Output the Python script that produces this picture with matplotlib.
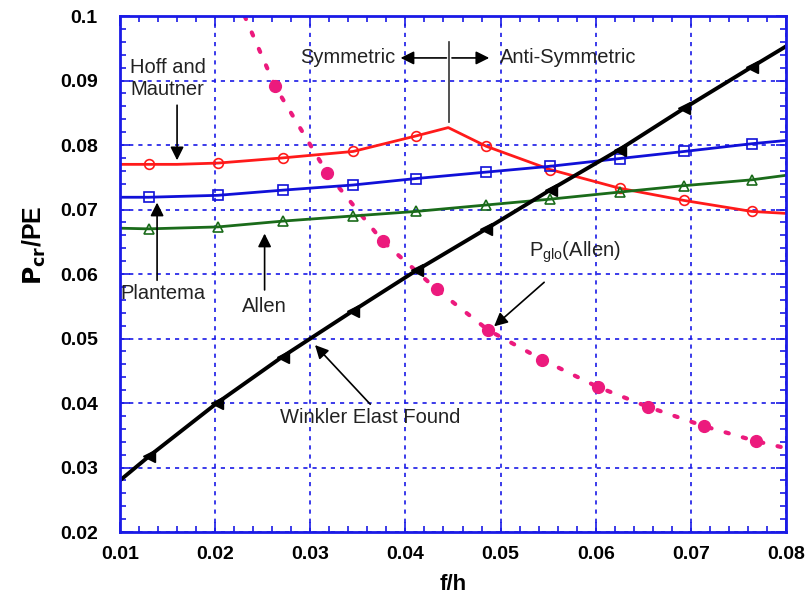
import numpy as np
import matplotlib
matplotlib.use('Agg')
import matplotlib.pyplot as plt
from matplotlib.ticker import MultipleLocator

plt.rcParams['font.family'] = ['Liberation Sans', 'DejaVu Sans']

# Hoff and Mautner (red, circles)
hoff_x = [0.010, 0.0130, 0.016, 0.0203, 0.0271, 0.0345, 0.0411, 0.0445, 0.0485, 0.0552, 0.0625, 0.0693, 0.0764, 0.080]
hoff_y = [0.0770, 0.0770, 0.0770, 0.0772, 0.0780, 0.0790, 0.0814, 0.0827, 0.0798, 0.0762, 0.0733, 0.0714, 0.0697, 0.0694]
hoff_mk = [1, 3, 4, 5, 6, 8, 9, 10, 11, 12]

# Plantema (blue, squares)
plan_x = [0.010, 0.0130, 0.0203, 0.0271, 0.0345, 0.0411, 0.0485, 0.0552, 0.0625, 0.0693, 0.0764, 0.080]
plan_y = [0.0719, 0.0719, 0.0722, 0.0730, 0.0738, 0.0748, 0.0758, 0.0767, 0.0779, 0.0790, 0.0802, 0.0807]

# Allen (green, triangles)
allen_x = [0.010, 0.0130, 0.0203, 0.0271, 0.0345, 0.0411, 0.0485, 0.0552, 0.0625, 0.0693, 0.0764, 0.080]
allen_y = [0.0671, 0.0670, 0.0673, 0.0682, 0.0690, 0.0697, 0.0707, 0.0716, 0.0727, 0.0737, 0.0746, 0.0753]

# Winkler elastic foundation (black)
wink_x = [0.010, 0.0131, 0.0202, 0.0271, 0.0345, 0.0412, 0.0485, 0.0553, 0.0625, 0.0693, 0.0764, 0.080]
wink_y = [0.0280, 0.0318, 0.0400, 0.0472, 0.0543, 0.0606, 0.0670, 0.0731, 0.0793, 0.0857, 0.0921, 0.0953]

# P_glo (Allen) (pink dotted)
pglo_x = [0.0231, 0.0263, 0.0318, 0.0376, 0.0433, 0.0487, 0.0544, 0.0602, 0.0655, 0.0714, 0.0768, 0.080]
pglo_y = [0.1000, 0.0891, 0.0756, 0.0651, 0.0576, 0.0513, 0.0467, 0.0425, 0.0394, 0.0364, 0.0341, 0.0330]

blue = '#1a1ae6'

fig = plt.figure(figsize=(8.09, 6.04), dpi=100)
ax = fig.add_axes([0.1483, 0.1192, 0.8233, 0.8543])

ax.plot(pglo_x, pglo_y, color='#ec1a7d', lw=3, linestyle=(0, (0.8, 3.5)), dash_capstyle='round')
ax.plot(pglo_x[1:-1], pglo_y[1:-1], 'o', color='#ec1a7d', ms=8.5, ls='none')

ax.plot(hoff_x, hoff_y, color='#ff1a1a', lw=2, marker='o', ms=7, mfc='none', mew=1.2,
        markevery=hoff_mk)
ax.plot(plan_x, plan_y, color='#1010d8', lw=2, marker='s', ms=7, mfc='none', mew=1.2,
        markevery=list(range(1, 11)))
ax.plot(allen_x, allen_y, color='#1a6b1a', lw=2, marker='^', ms=7, mfc='none', mew=1.2,
        markevery=list(range(1, 11)))
ax.plot(wink_x, wink_y, color='black', lw=2.8, marker='<', ms=8,
        markevery=list(range(1, 11)))

ax.set_xlim(0.01, 0.08)
ax.set_ylim(0.02, 0.1)
ax.xaxis.set_minor_locator(MultipleLocator(0.002))
ax.yaxis.set_minor_locator(MultipleLocator(0.002))
ax.set_xticks(np.arange(0.01, 0.0801, 0.01))
ax.set_xticklabels(['0.01', '0.02', '0.03', '0.04', '0.05', '0.06', '0.07', '0.08'])
ax.set_yticks(np.arange(0.02, 0.1001, 0.01))
ax.set_yticklabels(['0.02', '0.03', '0.04', '0.05', '0.06', '0.07', '0.08', '0.09', '0.1'])

ax.grid(True, which='major', color=blue, linestyle=(0, (2.5, 3)), lw=1.2)
ax.tick_params(which='both', direction='in', top=True, right=True, color=blue)
ax.tick_params(which='major', length=7, width=1.2, labelsize=14)
ax.tick_params(which='minor', length=4, width=1.2)
ax.tick_params(axis='x', which='major', pad=10)
ax.tick_params(axis='y', which='major', pad=16)
for lab in ax.get_xticklabels() + ax.get_yticklabels():
    lab.set_fontweight('bold')
for sp in ax.spines.values():
    sp.set_color(blue)
    sp.set_linewidth(2)

ax.set_xlabel('f/h', fontsize=16, fontweight='bold', labelpad=8)
ax.set_ylabel(r'$\mathbf{P_{cr}}$/PE', fontsize=18, fontweight='bold')
ax.yaxis.set_label_coords(-0.108, 0.556)

txt = dict(fontsize=14.5, color='#222222')
arr = dict(arrowstyle='-|>', color='black', lw=1.2, mutation_scale=20)

ax.text(0.0111, 0.0903, 'Hoff and\nMautner', va='center', ha='left', linespacing=1.25, **txt)
ax.annotate('', xy=(0.0160, 0.0772), xytext=(0.0160, 0.0866), arrowprops=arr)

ax.text(0.0100, 0.0570, 'Plantema', va='center', ha='left', **txt)
ax.annotate('', xy=(0.0139, 0.0715), xytext=(0.0139, 0.0586), arrowprops=arr)

ax.text(0.0252, 0.0550, 'Allen', va='center', ha='center', **txt)
ax.annotate('', xy=(0.0252, 0.0667), xytext=(0.0252, 0.0571), arrowprops=arr)

ax.text(0.0363, 0.0377, 'Winkler Elast Found', va='center', ha='center', **txt)
ax.annotate('', xy=(0.0303, 0.0493), xytext=(0.0365, 0.0395), arrowprops=arr)

ax.text(0.0530, 0.0633, r'P$_{\mathregular{glo}}$(Allen)', va='center', ha='left', **txt)
ax.annotate('', xy=(0.0491, 0.0516), xytext=(0.0548, 0.0590), arrowprops=arr)

ax.plot([0.0446, 0.0446], [0.0835, 0.0960], color='#333333', lw=1.2)
ax.annotate('', xy=(0.0392, 0.0935), xytext=(0.0446, 0.0935), arrowprops=arr)
ax.annotate('', xy=(0.0491, 0.0935), xytext=(0.0446, 0.0935), arrowprops=arr)
ax.text(0.0389, 0.0936, 'Symmetric', va='center', ha='right', **txt)
ax.text(0.0499, 0.0936, 'Anti-Symmetric', va='center', ha='left', **txt)

fig.savefig('out.png', dpi=100)
